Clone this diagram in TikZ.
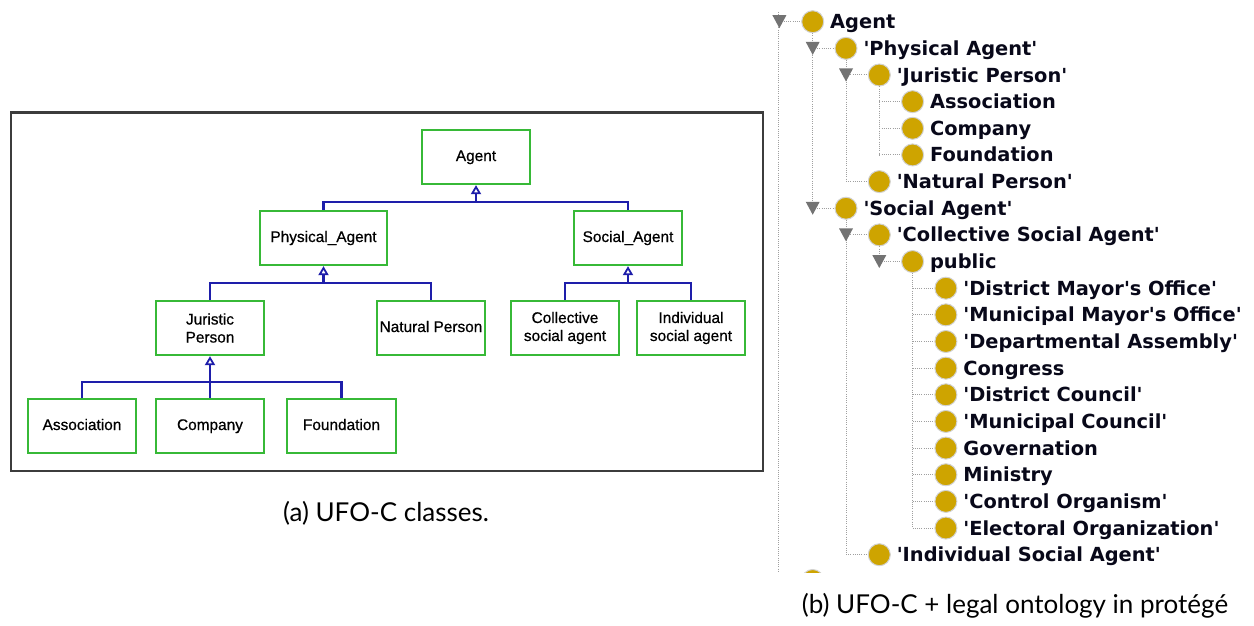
\documentclass[tikz,border=0pt]{standalone}
\usepackage{fontspec}
\usetikzlibrary{arrows.meta,calc}
\newfontfamily\boxfont{Liberation Sans}[FakeBold=0.6]
\newfontfamily\treefont{DejaVu Sans}
\newfontfamily\capfont{Lato}
\newcommand\qq{\textquotesingle}
\definecolor{boxgreen}{RGB}{55,185,55}
\definecolor{connblue}{RGB}{30,30,170}
\definecolor{gold}{RGB}{206,164,0}
\definecolor{tritext}{RGB}{8,8,25}
\definecolor{framegray}{RGB}{60,60,60}
\tikzset{
  umlbox/.style={draw=boxgreen, line width=2.3pt, fill=white, minimum height=54pt, minimum width=108pt, align=center, inner sep=2pt, font=\boxfont\fontsize{15.4}{18}\selectfont},
  oneline/.style={text height=11pt, text depth=3pt},
  conn/.style={draw=connblue, line width=2.3pt},
  genarrow/.style={conn, -{Triangle[open, width=10pt, length=9pt, line width=1.8pt]}},
  dot/.style={circle, fill=gold, draw=gray!35, line width=1pt, minimum size=22pt, inner sep=0pt},
  lbl/.style={anchor=base west, inner sep=0pt, text=tritext, font=\treefont\bfseries\fontsize{19.4}{22}\selectfont},
  dotline/.style={draw=gray!75, line width=1pt, dash pattern=on 1pt off 1.2pt},
  expander/.style={fill=gray!90!black, draw=none},
  caption/.style={font=\capfont\fontsize{26}{30}\selectfont, inner sep=0pt, anchor=base}
}
\begin{document}
\begin{tikzpicture}[x=1pt,y=-1pt]
\useasboundingbox (0,0) rectangle (1254,626);
% ---------------- left panel ----------------
\node[draw=framegray, line width=2pt, minimum width=752pt, minimum height=358pt, inner sep=0pt] (frame) at (386.5,291.5) {};
\node[umlbox, oneline] (agent) at (476,157) {Agent};
\node[umlbox, oneline, minimum width=127pt] (phys) at (323.5,238) {Physical\_Agent};
\node[umlbox, oneline] (soc) at (628,238) {Social\_Agent};
\node[umlbox] (jur) at (210,328) {Juristic\\Person};
\node[umlbox, oneline] (nat) at (431,328) {Natural Person};
\node[umlbox] (coll) at (565,328) {Collective\\social agent};
\node[umlbox] (ind) at (691,328) {Individual\\social agent};
\node[umlbox, oneline] (assoc) at (82,426) {Association};
\node[umlbox, oneline] (comp) at (210,426) {Company};
\node[umlbox, oneline, minimum width=109pt] (found) at (341.5,426) {Foundation};
\coordinate (b1) at (476,202);
\coordinate (b2) at (323.5,283);
\coordinate (b3) at (628,283);
\coordinate (b4) at (210,382);
\draw[conn] (phys.north) |- (b1) -| (soc.north);
\draw[genarrow] (b1) -- (agent.south);
\draw[conn] (jur.north) |- (b2) -| (nat.north);
\draw[genarrow] (b2) -- (phys.south);
\draw[conn] (coll.north) |- (b3) -| (ind.north);
\draw[genarrow] (b3) -- (soc.south);
\draw[conn] (assoc.north) |- (b4) -| (found.north);
\draw[conn] (comp.north) -- (b4);
\draw[genarrow] (b4) -- (jur.south);
\node[caption] (capa) at (386,521) {(a) UFO-C classes.};
% ---------------- right panel ----------------
\def\xo{812.7}\def\dx{33.3}\def\yo{21.7}\def\dy{26.65}
% vertical guide lines
\coordinate (v0top) at (778.5,12);
\coordinate (v0bot) at (778.5,572);
\draw[dotline] (v0top) -- (v0bot);
\foreach \i/\L/\t in {0/0/Agent,1/1/\qq Physical Agent\qq,2/2/\qq Juristic Person\qq,3/3/Association,4/3/Company,5/3/Foundation,6/2/\qq Natural Person\qq,7/1/\qq Social Agent\qq,8/2/\qq Collective Social Agent\qq,9/3/public,10/4/\qq District Mayor\qq s Office\qq,11/4/\qq Municipal Mayor\qq s Office\qq,12/4/\qq Departmental Assembly\qq,13/4/Congress,14/4/\qq District Council\qq,15/4/\qq Municipal Council\qq,16/4/Governation,17/4/Ministry,18/4/\qq Control Organism\qq,19/4/\qq Electoral Organization\qq,20/2/\qq Individual Social Agent\qq}{
  \pgfmathsetmacro\cx{\xo+\dx*\L}
  \pgfmathsetmacro\cy{\yo+\dy*\i}
  \pgfmathsetmacro\px{\cx-\dx}
  \coordinate (h\i) at (\px,\cy);
  \node[dot] (d\i) at (\cx,\cy) {};
  \draw[dotline] (h\i) -- (d\i.west);
  \node[lbl] (t\i) at (\cx+17.3,\cy+7) {\t};
}
% children guide lines
\draw[dotline] (d0.south) -- (d0.south |- h7);
\draw[dotline] (d1.south) -- (d1.south |- h6);
\draw[dotline] (d2.south) -- (d2.south |- h5);
\draw[dotline] (d7.south) -- (d7.south |- h20);
\draw[dotline] (d8.south) -- (d8.south |- h9);
\draw[dotline] (d9.south) -- (d9.south |- h19);
% expanders
\foreach \i in {0,1,2,7,8,9}{
  \fill[expander] ($(h\i)+(-7,-6.5)$) -- ($(h\i)+(7,-6.5)$) -- ($(h\i)+(0,6.5)$) -- cycle;
}
% partially visible next sibling
\begin{scope}
  \clip (760,0) rectangle (1254,572);
  \node[dot] (d21) at (812.7,580.5) {};
\end{scope}
\node[caption] (capb) at (1015,613) {(b) UFO-C + legal ontology in prot\'eg\'e};
\end{tikzpicture}
\end{document}
